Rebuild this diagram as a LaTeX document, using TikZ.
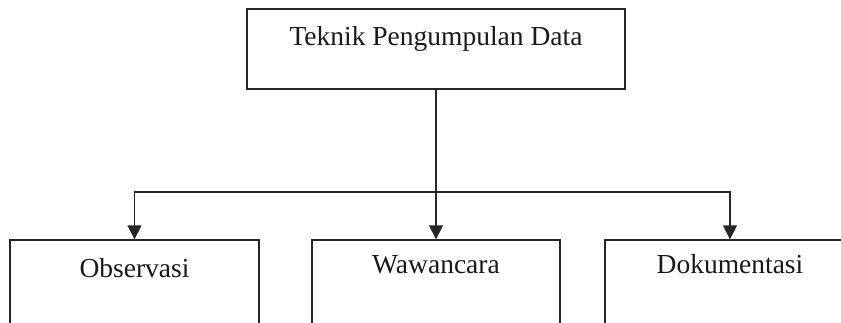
\documentclass[tikz,border=0pt]{standalone}
\usepackage{fontspec}
\setmainfont{Liberation Serif}
\usetikzlibrary{arrows.meta}
\tikzset{
  boxnode/.style={draw=black!85, line width=1.3pt, rectangle, inner sep=0pt},
  lbl/.style={anchor=base, inner sep=0pt, font=\fontsize{27.5}{31}\selectfont, text=black!90},
  conn/.style={draw=black!85, line width=1.3pt},
  arr/.style={conn, -{Triangle[width=14pt,length=14pt]}}
}
\begin{document}
\begin{tikzpicture}[x=1pt,y=-1pt]
\useasboundingbox (0,0) rectangle (841,322);
\clip (0,0) rectangle (841,322);
\node[boxnode, minimum width=378pt, minimum height=80pt] (top) at (436,49) {};
\node[lbl] (toptext) at (436,45) {Teknik Pengumpulan Data};
\node[boxnode, minimum width=249pt, minimum height=120pt] (obs) at (134.5,300) {};
\node[lbl] (obstext) at (134.5,277) {Observasi};
\node[boxnode, minimum width=248pt, minimum height=120pt] (waw) at (436,300) {};
\node[lbl] (wawtext) at (436,273) {Wawancara};
\node[boxnode, minimum width=250pt, minimum height=120pt] (dok) at (730,300) {};
\node[lbl] (doktext) at (730,273) {Dokumentasi};
\coordinate (j) at (436,192);
\draw[conn] (top.south) -- (j);
\draw[arr] (j) -| (obs.north);
\draw[arr] (j) -- (waw.north);
\draw[arr] (j) -| (dok.north);
\end{tikzpicture}
\end{document}
